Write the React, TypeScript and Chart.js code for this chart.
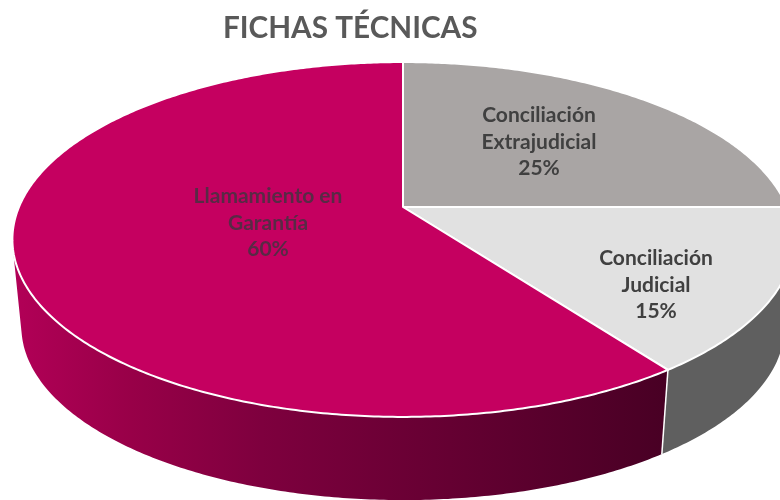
import React, { useEffect, useRef } from "react";
import { Chart, registerables } from "chart.js";

Chart.register(...registerables);

const categories = ["Conciliación Extrajudicial", "Conciliación Judicial", "Llamamiento en Garantía"];
const shares = [25, 15, 60];
const labelLines = [["Conciliación", "Extrajudicial", "25%"], ["Conciliación", "Judicial", "15%"], ["Llamamiento en", "Garantía", "60%"]];
const topColors = ["#A9A5A4", "#E1E1E1", "#C50060"];
const labelColors = ["#404040", "#404040", "#582A45"];
const labelAnchors = [[539, 142], [656, 285], [268, 223]];

const wallStops: Array<Array<[number, string]>> = [
  [[0, "#5F5F5F"], [1, "#5F5F5F"]],
  [[0, "#5F5F5F"], [1, "#5F5F5F"]],
  [[0, "#B20057"], [0.18, "#980048"], [0.38, "#7E003E"], [1, "#480024"]],
];

// Perspective camera for the tilted disc
const CX = 403, TOP_Y = 207, A = 384, B = 171.5, K = -0.183;
const BOTTOM_Y = 295, BOTTOM_SCALE = 0.977;

function project(angle: number, level: 0 | 1, r = 1): [number, number] {
  const u = Math.cos(angle) * r, v = Math.sin(angle) * r;
  const d = 1 + K * v;
  const s = level ? BOTTOM_SCALE : 1;
  return [CX + (s * A * u) / d, (level ? BOTTOM_Y : TOP_Y) + (s * B * v) / d];
}

function rimPoints(start: number, end: number, level: 0 | 1) {
  const n = Math.max(2, Math.ceil((end - start) / 0.01));
  const pts: Array<[number, number]> = [];
  for (let i = 0; i <= n; i++) pts.push(project(start + ((end - start) * i) / n, level));
  return pts;
}

function signedArea(q: Array<[number, number]>) {
  let s = 0;
  q.forEach(([x, y], i) => {
    const [nx, ny] = q[(i + 1) % q.length];
    s += x * ny - nx * y;
  });
  return s;
}

const tiltedPie = {
  id: "tiltedPie",
  beforeDatasetsDraw(chart: any) {
    const ctx: CanvasRenderingContext2D = chart.ctx;
    const arcs = chart.getDatasetMeta(0).data;
    const bg = chart.data.datasets[0].backgroundColor;

    // side walls: one path of swept quads, all wound the same way, filled once
    arcs.forEach((arc: any, i: number) => {
      const top = rimPoints(arc.startAngle, arc.endAngle, 0);
      const bottom = rimPoints(arc.startAngle, arc.endAngle, 1);
      const g = ctx.createLinearGradient(13, 0, 668, 0);
      wallStops[i].forEach(([o, c]) => g.addColorStop(o, c));
      ctx.beginPath();
      for (let k = 0; k < top.length - 1; k++) {
        const q: Array<[number, number]> = [top[k], top[k + 1], bottom[k + 1], bottom[k]];
        if (signedArea(q) < 0) q.reverse();
        q.forEach(([x, y], m) => (m ? ctx.lineTo(x, y) : ctx.moveTo(x, y)));
        ctx.closePath();
      }
      ctx.fillStyle = g;
      ctx.fill("nonzero");
    });

    // white seam on the visible wall edge
    arcs.forEach((arc: any) => {
      const a = arc.endAngle;
      if (Math.sin(a) > 0.3) {
        const [x0, y0] = project(a, 0);
        const [x1, y1] = project(a, 1);
        ctx.beginPath();
        ctx.moveTo(x0, y0);
        ctx.lineTo(x1, y1);
        ctx.strokeStyle = "#FFFFFF";
        ctx.lineWidth = 1.5;
        ctx.stroke();
      }
    });

    // top faces
    arcs.forEach((arc: any, i: number) => {
      const rim = rimPoints(arc.startAngle, arc.endAngle, 0);
      const [cx, cy] = project(0, 0, 0);
      ctx.beginPath();
      ctx.moveTo(cx, cy);
      rim.forEach(([x, y]) => ctx.lineTo(x, y));
      ctx.closePath();
      ctx.fillStyle = bg[i];
      ctx.fill();
      ctx.strokeStyle = "#FFFFFF";
      ctx.lineWidth = 2;
      ctx.lineJoin = "round";
      ctx.stroke();
    });

    // data labels
    ctx.textAlign = "center";
    ctx.textBaseline = "middle";
    ctx.font = "bold 21px Lato, sans-serif";
    labelLines.forEach((lines, i) => {
      ctx.fillStyle = labelColors[i];
      lines.forEach((line, k) => ctx.fillText(line, labelAnchors[i][0], labelAnchors[i][1] + (k - 1) * 26.5));
    });
    return false;
  },
};

export default function App() {
  const ref = useRef<HTMLCanvasElement>(null);
  useEffect(() => {
    const chart = new Chart(ref.current!, {
      type: "pie",
      data: {
        labels: categories,
        datasets: [{ data: shares, backgroundColor: topColors, borderColor: "#FFFFFF", borderWidth: 2 }],
      },
      options: {
        responsive: false,
        animation: false,
        layout: { padding: { left: 223, top: 11 } },
        plugins: {
          legend: { display: false },
          tooltip: { enabled: false },
          title: {
            display: true,
            text: "FICHAS TÉCNICAS",
            align: "start",
            color: "#595959",
            font: { family: "Lato, sans-serif", size: 29.7, weight: "bold" },
            padding: 0,
          },
        },
      },
      plugins: [tiltedPie],
    } as any);
    return () => chart.destroy();
  }, []);
  return (
    <canvas
      ref={ref}
      width={780}
      height={500}
      style={{ position: "fixed", left: 0, top: 0, width: 780, height: 500, background: "#FFFFFF" }}
    />
  );
}
